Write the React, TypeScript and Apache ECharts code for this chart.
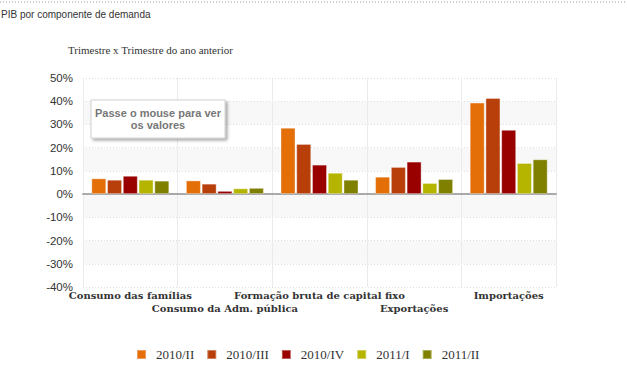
import React, { useEffect, useRef } from "react";
import * as echarts from "echarts";

const categories = [
  "Consumo das famílias",
  "Consumo da Adm. pública",
  "Formação bruta de capital fixo",
  "Exportações",
  "Importações",
];
const seriesNames = ["2010/II", "2010/III", "2010/IV", "2011/I", "2011/II"];
const s2010II = [6.8, 5.9, 28.6, 7.5, 39.4];
const s2010III = [6.2, 4.5, 21.6, 11.7, 41.4];
const s2010IV = [7.9, 1.4, 12.7, 14.0, 27.7];
const s2011I = [6.2, 2.5, 9.2, 4.8, 13.4];
const s2011II = [5.8, 2.7, 6.2, 6.5, 15.0];
const seriesValues = [s2010II, s2010III, s2010IV, s2011I, s2011II];
const colors = ["#e46e07", "#b83e0a", "#990000", "#b5b500", "#808000"];

export default function App() {
  const ref = useRef<HTMLDivElement>(null);
  useEffect(() => {
    document.body.style.margin = "0";
    const chart = echarts.init(ref.current!, null, { renderer: "svg" });
    const series: any[] = seriesNames.map((name, i) => ({
      name,
      type: "bar",
      data: seriesValues[i],
      barWidth: 15,
      barGap: "5%",
      itemStyle: {
        color: colors[i],
        borderColor: "rgba(255,255,255,0.35)",
        borderWidth: 1,
      },
    }));
    chart.setOption({
      animation: false,
      color: colors,
      grid: { left: 83, right: 71, top: 78, bottom: 86 },
      xAxis: [
        {
          type: "category",
          data: categories,
          position: "bottom",
          axisLine: { show: false, onZero: false },
          axisTick: { show: false },
          splitLine: { show: true, lineStyle: { color: "#ebebeb", width: 1 } },
          axisLabel: {
            interval: 0,
            margin: 2,
            color: "#333",
            fontFamily: "DejaVu Serif",
            fontWeight: "bold",
            fontSize: 10,
            lineHeight: 13,
            verticalAlign: "top",
            formatter: (v: string, i: number) => (i % 2 ? "\n" + v : v),
          },
        },
        {
          type: "category",
          data: categories,
          position: "top",
          axisLine: { show: true, onZero: true, lineStyle: { color: "#aaaaaa", width: 2 } },
          axisTick: { show: true, alignWithLabel: true, length: 3, lineStyle: { color: "#aaaaaa", width: 1 } },
          axisLabel: { show: false },
          splitLine: { show: false },
        },
      ],
      yAxis: {
        type: "value",
        min: -40,
        max: 50,
        interval: 10,
        axisLine: { show: false },
        axisTick: { show: false },
        axisLabel: {
          formatter: "{value}%",
          color: "#333",
          fontFamily: "Liberation Sans",
          fontSize: 11.5,
          margin: 10,
        },
        splitLine: { show: true, lineStyle: { color: "#dddddd", type: [1, 2] } },
        splitArea: { show: true, areaStyle: { color: ["#ffffff", "#f8f8f8"] } },
      },
      legend: {
        top: 343,
        left: 131,
        itemWidth: 9,
        itemHeight: 9,
        itemGap: 12,
        icon: "rect",
        textStyle: {
          color: "#333",
          fontFamily: "Liberation Serif",
          fontSize: 13,
          padding: [0, 0, 0, 5],
        },
      },
      graphic: [
        {
          type: "line",
          shape: { x1: 0, y1: 2, x2: 627, y2: 2 },
          style: { stroke: "#999", lineWidth: 1, lineDash: [1, 2] },
        },
        {
          type: "text",
          left: 1,
          top: 9,
          style: {
            text: "PIB por componente de demanda",
            fill: "#333",
            font: "10px 'Liberation Sans'",
          },
        },
        {
          type: "text",
          left: 68,
          top: 44,
          style: {
            text: "Trimestre x Trimestre do ano anterior",
            fill: "#333",
            font: "11px 'Liberation Serif'",
          },
        },
        {
          type: "rect",
          shape: { x: 91, y: 100, width: 134, height: 38 },
          style: {
            fill: "#fff",
            stroke: "#d0d0d0",
            lineWidth: 1,
            shadowBlur: 3,
            shadowOffsetX: 2,
            shadowOffsetY: 2,
            shadowColor: "rgba(0,0,0,0.35)",
          },
          z: 100,
        },
        {
          type: "text",
          x: 158,
          y: 119,
          z: 101,
          style: {
            text: "Passe o mouse para ver\nos valores",
            fill: "#777",
            font: "bold 11px 'Liberation Sans'",
            align: "center",
            verticalAlign: "middle",
            lineHeight: 12,
          },
        },
      ],
      series,
    });
    return () => chart.dispose();
  }, []);
  return (
    <div
      ref={ref}
      style={{ position: "absolute", left: 0, top: 0, width: 627, height: 373 }}
    />
  );
}
